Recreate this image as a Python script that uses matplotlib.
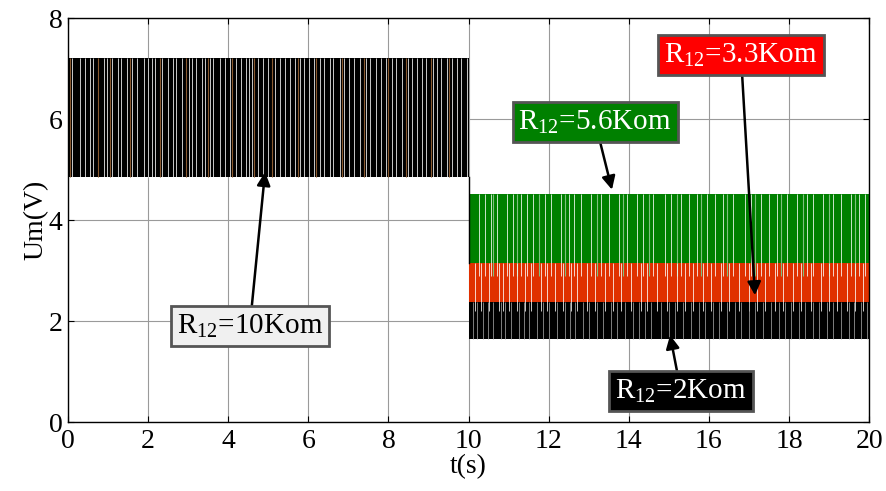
import matplotlib.pyplot as plt
import numpy as np

plt.rcParams['font.family'] = ['Liberation Serif', 'DejaVu Serif']
plt.rcParams['mathtext.fontset'] = 'custom'
plt.rcParams['mathtext.rm'] = 'Liberation Serif'

# switching envelopes (V) of each case
seg1_t = [0.0, 10.0]
seg2_t = [10.0, 20.0]
r10_low, r10_high = 4.85, 7.2        # R12 = 10 Kom, 0..10 s
r56_low, r56_high = 2.9, 4.52        # R12 = 5.6 Kom
r33_low, r33_high = 2.2, 3.15        # R12 = 3.3 Kom
r2_low, r2_high = 1.65, 2.38         # R12 = 2 Kom

# instants where the output stays on one level (visible gaps in the bands)
r10_gaps = [0.1, 0.3, 0.42, 0.55, 0.62, 0.9, 0.98, 1.1, 1.25, 1.33, 1.48, 1.6, 1.72,
            1.9, 2.0, 2.1, 2.18, 2.35, 2.5, 2.62, 2.7, 2.85, 3.02, 3.1, 3.2, 3.35,
            3.42, 3.55, 3.62, 3.8, 3.92, 4.05, 4.2, 4.32, 4.45, 4.52, 4.6, 4.75,
            4.88, 5.0, 5.18, 5.3, 5.42, 5.55, 5.68, 5.8, 5.9, 6.02, 6.15, 6.3,
            6.4, 6.55, 6.62, 6.78, 6.9, 7.02, 7.15, 7.3, 7.45, 7.55, 7.7, 7.82,
            7.95, 8.1, 8.2, 8.35, 8.5, 8.6, 8.72, 8.85, 8.95, 9.1, 9.2, 9.32,
            9.45, 9.58, 9.7, 9.82, 9.95]
r10_brown = [0.05, 0.75, 1.05, 1.55, 2.3, 2.95, 3.5, 4.1, 4.65, 5.1, 5.75, 6.2,
             6.85, 7.4, 8.0, 8.45, 9.05, 9.5]
r56_gaps = [10.25, 10.4, 10.55, 10.7, 10.95, 11.1, 11.3, 11.45, 11.6, 11.9, 12.05,
            12.3, 12.5, 12.62, 12.8, 13.05, 13.3, 13.5, 13.75, 13.95, 14.2, 14.35,
            14.6, 14.9, 15.05, 15.3, 15.5, 15.7, 15.95, 16.15, 16.35, 16.6, 16.9,
            17.05, 17.3, 17.5, 17.7, 17.95, 18.2, 18.45, 18.6, 18.85, 19.1, 19.3,
            19.55, 19.75, 19.9]
r56_light = [10.6, 11.2, 11.75, 12.4, 13.2, 13.85, 14.5, 15.2, 15.8, 16.45, 17.15,
             17.8, 18.35, 19.0, 19.65]
r33_gaps = [10.15, 10.3, 10.5, 10.75, 10.85, 11.0, 11.2, 11.4, 11.55, 11.8, 11.95,
            12.15, 12.35, 12.55, 12.7, 12.95, 13.15, 13.4, 13.6, 13.8, 14.05,
            14.3, 14.45, 14.7, 14.95, 15.2, 15.4, 15.6, 15.85, 16.05, 16.3, 16.5,
            16.75, 17.0, 17.2, 17.4, 17.65, 17.85, 18.1, 18.3, 18.55, 18.8, 19.0,
            19.2, 19.45, 19.65, 19.85]
r2_gaps = [10.1, 10.22, 10.35, 10.48, 10.6, 10.8, 10.92, 11.05, 11.25, 11.38, 11.5,
           11.7, 11.85, 12.0, 12.2, 12.4, 12.52, 12.65, 12.85, 13.0, 13.2, 13.35,
           13.55, 13.7, 13.9, 14.1, 14.25, 14.4, 14.55, 14.8, 15.0, 15.15, 15.35,
           15.55, 15.75, 15.9, 16.1, 16.25, 16.45, 16.65, 16.8, 17.0, 17.15, 17.35,
           17.55, 17.75, 17.9, 18.05, 18.25, 18.4, 18.6, 18.75, 18.95, 19.1, 19.3,
           19.5, 19.62, 19.8, 19.95]

fig = plt.figure(figsize=(8.86, 4.91), dpi=100)
ax = fig.add_axes([0.0767, 0.1405, 0.9043, 0.8228])

ax.fill_between(seg1_t, [r10_low] * 2, [r10_high] * 2, color='black', lw=0)
ax.vlines(r10_gaps, r10_low, r10_high, color='white', lw=0.55)
ax.vlines(r10_brown, r10_low, r10_high, color='#8a5a30', lw=0.8)
ax.plot([10, 10], [r10_low, r33_high], color='black', lw=1)

ax.fill_between(seg2_t, [r56_low] * 2, [r56_high] * 2, color='#008000', lw=0)
ax.vlines(r56_gaps, r56_low, r56_high, color='white', lw=0.55)
ax.vlines(r56_light, r56_low, r56_high, color='#7fc07f', lw=0.8)
ax.fill_between(seg2_t, [r33_low] * 2, [r33_high] * 2, color='#e03000', lw=0)
ax.vlines(r33_gaps, r33_low, r33_high, color='white', lw=0.55)
ax.fill_between(seg2_t, [r2_low] * 2, [r2_high] * 2, color='black', lw=0)
ax.vlines(r2_gaps, r2_low, r2_high, color='#a0a0a0', lw=0.55)

ax.set_xlim(0, 20)
ax.set_ylim(0, 8)
ax.set_xticks(np.arange(0, 21, 2))
ax.set_yticks(np.arange(0, 9, 2))
ax.grid(True, color='#9a9a9a', lw=0.8)
ax.set_axisbelow(True)
ax.tick_params(direction='in', labelsize=20, length=4, top=True, right=True)
ax.tick_params(axis='x', pad=5)
ax.tick_params(axis='y', pad=4)
ax.set_xlabel('t(s)', fontsize=20, labelpad=0)
ax.set_ylabel('Um(V)', fontsize=20, labelpad=0)
for s in ax.spines.values():
    s.set_linewidth(1.0)

labels = [r'R$_{12}$=10Kom', r'R$_{12}$=5.6Kom', r'R$_{12}$=3.3Kom', r'R$_{12}$=2Kom']
box_xy = [(4.54, 1.9), (13.16, 5.94), (16.8, 7.27), (15.3, 0.61)]
tip_xy = [(4.92, 4.95), (13.58, 4.6), (17.15, 2.51), (15.03, 1.72)]
face = ['#f0f0f0', '#008000', '#ff0000', 'black']
txtc = ['black', 'white', 'white', 'white']

for lab, bxy, txy, fc, tc in zip(labels, box_xy, tip_xy, face, txtc):
    ax.annotate(lab, xy=txy, xytext=bxy, ha='center', va='center', fontsize=21,
                color=tc,
                bbox=dict(boxstyle='square,pad=0.2', fc=fc, ec='#555555', lw=2),
                arrowprops=dict(arrowstyle='-|>', color='black', lw=1.8,
                                mutation_scale=20, shrinkA=0, shrinkB=0))

plt.savefig('out.png', dpi=100)
